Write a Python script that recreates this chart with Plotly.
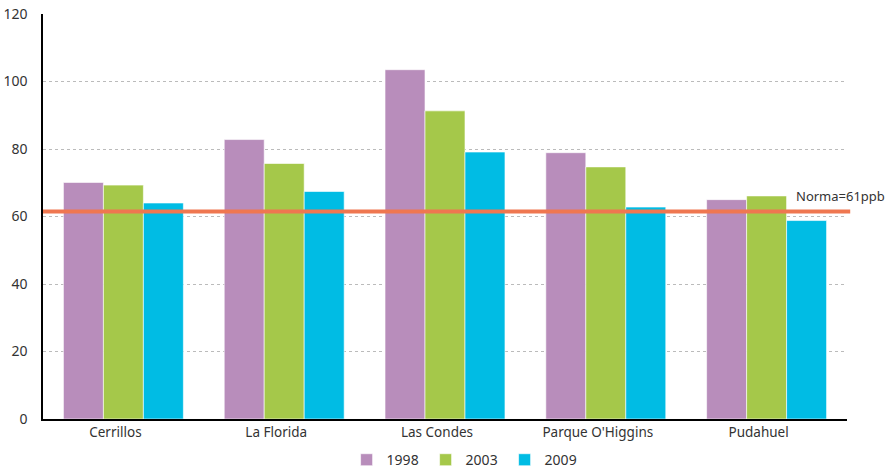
import plotly.graph_objects as go

categories = ["Cerrillos", "La Florida", "Las Condes", "Parque O'Higgins", "Pudahuel"]
years = ["1998", "2003", "2009"]
values_1998 = [70.1, 82.8, 103.5, 78.9, 65.0]
values_2003 = [69.3, 75.7, 91.3, 74.7, 66.1]
values_2009 = [64.0, 67.4, 79.1, 62.8, 58.8]
norma_value = 61.5
norma_label = "Norma=61ppb"
y_ticks = [0, 20, 40, 60, 80, 100, 120]

colors = ["#B88DBB", "#A5C84A", "#00BCE4"]
series = [values_1998, values_2003, values_2009]

fig = go.Figure()
for name, vals, col in zip(years, series, colors):
    fig.add_trace(go.Bar(
        x=categories, y=vals, name=name,
        marker=dict(color=col, line=dict(color="rgba(255,255,255,0.6)", width=1)),
    ))

fig.add_shape(type="line", xref="paper", yref="y", x0=0, x1=1.004,
              y0=norma_value, y1=norma_value,
              line=dict(color="#EF7750", width=4), layer="above")
fig.add_annotation(xref="paper", yref="y", x=0.934, y=norma_value, yshift=15,
                   text=norma_label, showarrow=False, xanchor="left",
                   font=dict(size=13, color="#333333"))

fig.update_layout(
    width=891, height=470,
    margin=dict(l=43, r=44, t=14, b=51),
    plot_bgcolor="white", paper_bgcolor="white",
    font=dict(family="Noto Sans, sans-serif", size=13, color="#333333"),
    barmode="group", bargap=0.254, bargroupgap=0,
    showlegend=True,
    legend=dict(orientation="h", xref="container", yref="container",
                x=0.522, xanchor="center", y=0.021, yanchor="middle",
                font=dict(size=14), tracegroupgap=0, entrywidth=34),
    xaxis=dict(showline=True, linecolor="black", linewidth=1.5, ticks="",
               showgrid=False, tickfont=dict(size=13.5), automargin=False,
               ticklabelshift=-8),
    yaxis=dict(range=[0, 120], tickvals=y_ticks, showgrid=True,
               gridcolor="#BBBBBB", griddash="dot", gridwidth=1,
               showline=True, linecolor="black", linewidth=1.5,
               ticks="", ticklabelstandoff=11, zeroline=False,
               tickfont=dict(size=14), automargin=False),
)

fig.write_html("out.html", config={"displayModeBar": False},
               post_script="document.body.style.margin='0';")
